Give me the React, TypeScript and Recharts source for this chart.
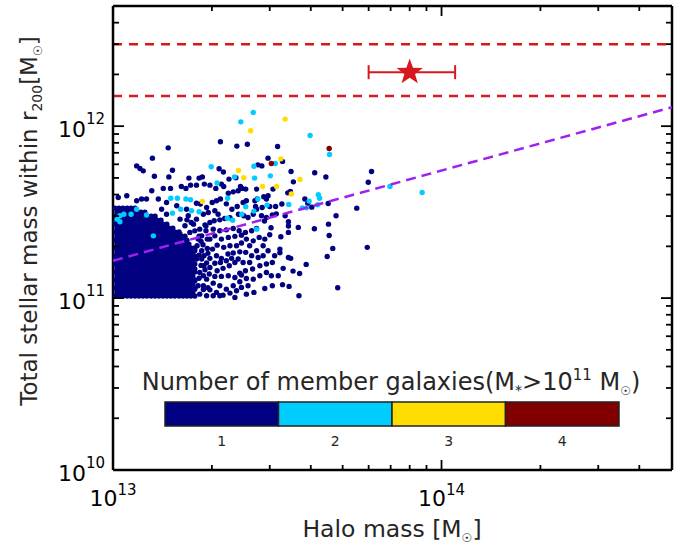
import { ErrorBar, ReferenceLine, Scatter, ScatterChart, XAxis, YAxis } from 'recharts'

// values are log10(M / Msun): [halo mass, stellar mass within r200]
// dense core of single-member groups, read row by row: [log stellar mass, log halo masses]
const CORE_ROWS: [number, number[]][] = [
  [11.012, [13.006, 13.018, 13.03, 13.043, 13.055, 13.067, 13.079, 13.091, 13.103, 13.116, 13.128, 13.14, 13.152, 13.164, 13.176, 13.188, 13.201, 13.213, 13.225, 13.237, 13.249]],
  [11.035, [13.012, 13.024, 13.037, 13.049, 13.061, 13.073, 13.085, 13.097, 13.109, 13.122, 13.134, 13.146, 13.158, 13.17, 13.182, 13.195, 13.207, 13.219, 13.231, 13.243]],
  [11.058, [13.006, 13.018, 13.03, 13.043, 13.055, 13.067, 13.079, 13.091, 13.103, 13.116, 13.128, 13.14, 13.152, 13.164, 13.176, 13.188, 13.201, 13.213, 13.225, 13.237, 13.249]],
  [11.081, [13.012, 13.024, 13.037, 13.049, 13.061, 13.073, 13.085, 13.097, 13.109, 13.122, 13.134, 13.146, 13.158, 13.17, 13.182, 13.195, 13.207, 13.219, 13.231, 13.243]],
  [11.105, [13.006, 13.018, 13.03, 13.043, 13.055, 13.067, 13.079, 13.091, 13.103, 13.116, 13.128, 13.14, 13.152, 13.164, 13.176, 13.188, 13.201, 13.213, 13.225, 13.237, 13.249]],
  [11.128, [13.012, 13.024, 13.037, 13.049, 13.061, 13.073, 13.085, 13.097, 13.109, 13.122, 13.134, 13.146, 13.158, 13.17, 13.182, 13.195, 13.207, 13.219, 13.231, 13.243]],
  [11.151, [13.006, 13.018, 13.03, 13.043, 13.055, 13.067, 13.079, 13.091, 13.103, 13.116, 13.128, 13.14, 13.152, 13.164, 13.176, 13.188, 13.201, 13.213, 13.225, 13.237, 13.249]],
  [11.174, [13.012, 13.024, 13.037, 13.049, 13.061, 13.073, 13.085, 13.097, 13.109, 13.122, 13.134, 13.146, 13.158, 13.17, 13.182, 13.195, 13.207, 13.219, 13.231, 13.243]],
  [11.198, [13.006, 13.018, 13.03, 13.043, 13.055, 13.067, 13.079, 13.091, 13.103, 13.116, 13.128, 13.14, 13.152, 13.164, 13.176, 13.188, 13.201, 13.213, 13.225, 13.237, 13.249]],
  [11.221, [13.012, 13.024, 13.037, 13.049, 13.061, 13.073, 13.085, 13.097, 13.109, 13.122, 13.134, 13.146, 13.158, 13.17, 13.182, 13.195, 13.207, 13.219, 13.231, 13.243]],
  [11.244, [13.006, 13.018, 13.03, 13.043, 13.055, 13.067, 13.079, 13.091, 13.103, 13.116, 13.128, 13.14, 13.152, 13.164, 13.176, 13.188, 13.201, 13.213, 13.225, 13.237, 13.249]],
  [11.267, [13.012, 13.024, 13.037, 13.049, 13.061, 13.073, 13.085, 13.097, 13.109, 13.122, 13.134, 13.146, 13.158, 13.17, 13.182, 13.195, 13.207, 13.219, 13.231, 13.243]],
  [11.291, [13.006, 13.018, 13.03, 13.043, 13.055, 13.067, 13.079, 13.091, 13.103, 13.116, 13.128, 13.14, 13.152, 13.164, 13.176, 13.188, 13.201, 13.213, 13.225, 13.237, 13.249]],
  [11.314, [13.012, 13.024, 13.037, 13.049, 13.061, 13.073, 13.085, 13.097, 13.109, 13.122, 13.134, 13.146, 13.158, 13.17, 13.182, 13.195, 13.207, 13.219, 13.231]],
  [11.337, [13.006, 13.018, 13.03, 13.043, 13.055, 13.067, 13.079, 13.091, 13.103, 13.116, 13.128, 13.14, 13.152, 13.164, 13.176, 13.188, 13.201, 13.213, 13.225]],
  [11.36, [13.012, 13.024, 13.037, 13.049, 13.061, 13.073, 13.085, 13.097, 13.109, 13.122, 13.134, 13.146, 13.158, 13.17, 13.182, 13.195, 13.207, 13.219]],
  [11.384, [13.006, 13.018, 13.03, 13.043, 13.055, 13.067, 13.079, 13.091, 13.103, 13.116, 13.128, 13.14, 13.152, 13.164, 13.176, 13.188, 13.201]],
  [11.407, [13.012, 13.024, 13.037, 13.049, 13.061, 13.073, 13.085, 13.097, 13.109, 13.122, 13.134, 13.146, 13.158, 13.17, 13.182]],
  [11.43, [13.006, 13.018, 13.03, 13.043, 13.055, 13.067, 13.079, 13.091, 13.103, 13.116, 13.128, 13.14, 13.152, 13.164]],
  [11.453, [13.012, 13.024, 13.037, 13.049, 13.061, 13.073, 13.085, 13.097, 13.109, 13.122, 13.134, 13.146]],
  [11.477, [13.006, 13.018, 13.03, 13.043, 13.055, 13.067, 13.079, 13.091, 13.103, 13.116, 13.128]],
  [11.5, [13.012, 13.024, 13.037, 13.049, 13.061, 13.073, 13.085, 13.097]],
  [11.523, [13.006, 13.018, 13.03, 13.043, 13.055, 13.067]],
]

// 1 member galaxy, scattered points
const N1_POINTS: [number, number][] = [
  [13.168, 11.874], [13.327, 11.909], [13.377, 11.884], [13.409, 11.895], [13.501, 11.882],
  [13.472, 11.814], [13.516, 11.795], [13.12, 11.814], [13.072, 11.769], [13.082, 11.754],
  [13.092, 11.74], [13.181, 11.744], [13.126, 11.709], [13.17, 11.705], [13.231, 11.698],
  [13.262, 11.698], [13.272, 11.705], [13.323, 11.752], [13.336, 11.733], [13.353, 11.692],
  [13.374, 11.7], [13.388, 11.649], [13.393, 11.638], [13.441, 11.775], [13.453, 11.769],
  [13.542, 11.736], [13.549, 11.676], [13.614, 11.729], [13.648, 11.704], [13.787, 11.736],
  [13.777, 11.674], [13.532, 11.612], [13.54, 11.62], [13.655, 11.55], [13.742, 11.523],
  [13.679, 11.479], [13.656, 11.43], [13.613, 11.403], [13.658, 11.364], [13.669, 11.289],
  [13.774, 11.295], [13.652, 11.242], [13.684, 11.06], [13.566, 11.014], [13.588, 11.196],
  [13.568, 11.143], [13.548, 11.157], [13.518, 11.173], [13.534, 11.236], [13.541, 11.231],
  [13.508, 11.264], [13.508, 11.285], [13.511, 11.357], [13.534, 11.419], [13.534, 11.382],
  [13.564, 11.411], [13.524, 11.479], [13.534, 11.444], [13.481, 11.409], [13.497, 11.49],
  [13.514, 11.547], [13.461, 11.448], [13.584, 11.576], [13.593, 11.552], [13.605, 11.529],
  [13.016, 11.585], [13.042, 11.595], [13.072, 11.566], [13.087, 11.576], [13.102, 11.576],
  [13.118, 11.624], [13.153, 11.638], [13.175, 11.638], [13.208, 11.649], [13.222, 11.638],
  [13.236, 11.657], [13.254, 11.657], [13.278, 11.663], [13.295, 11.657], [13.313, 11.638],
  [13.33, 11.663], [13.337, 11.649], [13.351, 11.61], [13.366, 11.618], [13.381, 11.624],
  [13.404, 11.634], [13.437, 11.634], [13.472, 11.595], [13.487, 11.634], [13.459, 11.589],
  [13.467, 11.576], [13.439, 11.576], [13.432, 11.566], [13.406, 11.566], [13.396, 11.556],
  [13.378, 11.533], [13.362, 11.517], [13.345, 11.548], [13.327, 11.576], [13.315, 11.566],
  [13.302, 11.556], [13.285, 11.527], [13.266, 11.547], [13.254, 11.552], [13.434, 11.533],
  [13.437, 11.517], [13.454, 11.527], [13.477, 11.533], [13.495, 11.533], [13.485, 11.483],
  [13.467, 11.469], [13.452, 11.479], [13.427, 11.488], [13.411, 11.469], [13.398, 11.479],
  [13.382, 11.488], [13.356, 11.467], [13.34, 11.463], [13.325, 11.455], [13.308, 11.45],
  [13.295, 11.44], [13.28, 11.426], [13.264, 11.401], [13.283, 11.392], [13.305, 11.401],
  [13.325, 11.392], [13.345, 11.397], [13.366, 11.405], [13.384, 11.392], [13.403, 11.382],
  [13.422, 11.392], [13.437, 11.405], [13.477, 11.368], [13.462, 11.343], [13.445, 11.353],
  [13.427, 11.333], [13.406, 11.343], [13.391, 11.32], [13.376, 11.304], [13.356, 11.304],
  [13.337, 11.295], [13.317, 11.308], [13.303, 11.285], [13.287, 11.289], [13.27, 11.275],
  [13.315, 11.246], [13.33, 11.231], [13.35, 11.256], [13.366, 11.262], [13.386, 11.269],
  [13.404, 11.266], [13.422, 11.246], [13.442, 11.236], [13.457, 11.246], [13.485, 11.207],
  [13.467, 11.198], [13.447, 11.188], [13.425, 11.169], [13.403, 11.159], [13.386, 11.145],
  [13.371, 11.207], [13.354, 11.188], [13.335, 11.173], [13.317, 11.159], [13.295, 11.178],
  [13.277, 11.188], [13.264, 11.149], [13.285, 11.11], [13.305, 11.087], [13.325, 11.072],
  [13.345, 11.052], [13.366, 11.072], [13.386, 11.095], [13.406, 11.114], [13.427, 11.11],
  [13.447, 11.13], [13.462, 11.056], [13.485, 11.072], [13.516, 11.078], [13.536, 11.068],
  [13.429, 11.033], [13.406, 11.023], [13.325, 11.014], [13.264, 11.023], [13.239, 11.029],
  [13.254, 11.459], [13.259, 11.343], [13.254, 11.227], [13.259, 11.072], [13.249, 11.169],
  [13.256, 11.304], [13.295, 11.343], [13.138, 11.576], [13.163, 11.556], [13.194, 11.537],
  [13.224, 11.517], [13.148, 11.517], [13.204, 11.459], [13.229, 11.479], [13.163, 11.488],
  [13.275, 11.488], [13.29, 11.498], [13.31, 11.508], [13.32, 11.488], [13.27, 11.362],
  [13.287, 11.343], [13.31, 11.362], [13.33, 11.343], [13.351, 11.353], [13.371, 11.359],
  [13.391, 11.366], [13.277, 11.246], [13.295, 11.231], [13.31, 11.203], [13.327, 11.207],
  [13.345, 11.217], [13.361, 11.231], [13.381, 11.227], [13.396, 11.207], [13.416, 11.207],
  [13.275, 11.13], [13.293, 11.14], [13.31, 11.126], [13.33, 11.126], [13.351, 11.13],
  [13.371, 11.12], [13.391, 11.134], [13.275, 11.072], [13.295, 11.048], [13.315, 11.033],
  [13.335, 11.017], [13.356, 11.029], [13.376, 11.043], [13.391, 11.062], [13.411, 11.072],
  [13.285, 11.014], [13.305, 11.014], [13.371, 11.004], [13.249, 11.101], [13.249, 11.052],
  [13.249, 11.275], [13.249, 11.391], [13.27, 11.227], [13.416, 11.304], [13.457, 11.304],
  [13.437, 11.275], [13.472, 11.275], [13.467, 11.149], [13.482, 11.13], [13.503, 11.13],
  [13.492, 11.246], [13.234, 11.382], [13.219, 11.421], [13.204, 11.372],
  [13.262, 11.115], [13.268, 11.19], [13.262, 11.25], [13.268, 11.33], [13.262, 11.36],
  [13.275, 11.05], [13.28, 11.165], [13.289, 11.26], [13.274, 11.31], [13.285, 11.205],
  [13.289, 11.06], [13.283, 11.42], [13.245, 11.43], [13.238, 11.44], [13.225, 11.455],
]

// 2 member galaxies
const N2_POINTS: [number, number][] = [
  [13.021, 11.479], [13.033, 11.488], [13.013, 11.459], [13.055, 11.488], [13.021, 11.444],
  [13.123, 11.362], [13.176, 11.581], [13.196, 11.581], [13.222, 11.576], [13.236, 11.572],
  [13.262, 11.502], [13.239, 11.508], [13.181, 11.494], [13.206, 11.517], [13.317, 11.669],
  [13.349, 11.581], [13.37, 11.705], [13.348, 11.465], [13.364, 11.453], [13.431, 11.698],
  [13.441, 11.576], [13.469, 11.541], [13.404, 11.531], [13.429, 11.506], [13.437, 11.401],
  [13.392, 11.488], [13.535, 11.545], [13.576, 11.525], [13.589, 11.525], [13.597, 11.564],
  [13.623, 11.543], [13.629, 11.581], [13.625, 11.601], [13.479, 11.711], [13.494, 11.783],
  [13.429, 11.767], [13.299, 11.764], [13.389, 12.025], [13.427, 12.08], [13.6, 11.946],
  [13.659, 11.835], [13.843, 11.649], [13.941, 11.614], [13.072, 11.517], [13.102, 11.483],
]

// 3 member galaxies
const N3_POINTS: [number, number][] = [
  [13.419, 11.973], [13.524, 12.041], [13.382, 11.742], [13.398, 11.7], [13.455, 11.649],
  [13.498, 11.649], [13.511, 11.81], [13.569, 11.69], [13.543, 11.605], [13.272, 11.562],
]

// 4 member galaxies
const N4_POINTS: [number, number][] = [
  [13.482, 11.783], [13.658, 11.87],
]

// observed system with halo-mass range
const STAR = [{ x: 8e13, y: 2.06e12, err: [2e13, 3e13] }]
const STAR_LIMITS = [3e12, 1.5e12]

// best-fit relation, log10 values at both ends of the x range
const FIT_LINE: [number, number][] = [[13.0, 11.217], [14.7016, 12.11]]

const X_DOMAIN: [number, number] = [1e13, 5.03e14]
const Y_DOMAIN: [number, number] = [1e10, 5e12]
const X_MAJOR = [1e13, 1e14]
const X_TICKS = [1e13, 2e13, 3e13, 4e13, 5e13, 6e13, 7e13, 8e13, 9e13, 1e14, 2e14, 3e14, 4e14]
const Y_MAJOR = [1e10, 1e11, 1e12]
const Y_TICKS = [
  1e10, 2e10, 3e10, 4e10, 5e10, 6e10, 7e10, 8e10, 9e10,
  1e11, 2e11, 3e11, 4e11, 5e11, 6e11, 7e11, 8e11, 9e11,
  1e12, 2e12, 3e12, 4e12,
]

const COLORS = ['#000080', '#00ccff', '#ffdd00', '#800000']
const CBAR_LABELS = ['1', '2', '3', '4']
const RED = '#d8181f'
const PURPLE = '#a020f0'
const FONT = 'DejaVu Sans'
const TITLE = '#262626'

const toPoints = (arr: [number, number][]) => arr.map(([lx, ly]) => ({ x: 10 ** lx, y: 10 ** ly }))

const n1Data = [
  ...CORE_ROWS.flatMap(([ly, xs]) => xs.map((lx) => ({ x: 10 ** lx, y: 10 ** ly }))),
  ...toPoints(N1_POINTS),
]
const groups = [n1Data, toPoints(N2_POINTS), toPoints(N3_POINTS), toPoints(N4_POINTS)]
const fitData = toPoints(FIT_LINE)

const dot = (fill: string) => (p: any) => <circle cx={p.cx} cy={p.cy} r={2.7} fill={fill} />
const noDot = () => <g />

function StarShape(p: any) {
  const pts: string[] = []
  for (let i = 0; i < 10; i++) {
    const r = i % 2 === 0 ? 13.8 : 5.6
    const a = -Math.PI / 2 + (i * Math.PI) / 5
    pts.push(`${p.cx + r * Math.cos(a)},${p.cy + r * Math.sin(a)}`)
  }
  return <polygon points={pts.join(' ')} fill={RED} />
}

function Pow({ v, x, y, anchor, dy }: { v: number; x: number; y: number; anchor: 'middle' | 'end'; dy: number }) {
  return (
    <text x={x} y={y} textAnchor={anchor} fontSize={22} fontFamily={FONT} fill="#000">
      10
      <tspan dy={dy} fontSize={15}>
        {Math.round(Math.log10(v))}
      </tspan>
    </text>
  )
}

function BottomTick({ x, y, payload }: any) {
  const major = X_MAJOR.includes(payload.value)
  return (
    <g>
      <line x1={x} x2={x} y1={y} y2={y - (major ? 10 : 5)} stroke="#000" strokeWidth={1.8} />
      {major && <Pow v={payload.value} x={x} y={y + 36} anchor="middle" dy={-11} />}
    </g>
  )
}

function TopTick({ x, y, payload }: any) {
  const major = X_MAJOR.includes(payload.value)
  return <line x1={x} x2={x} y1={y} y2={y + (major ? 10 : 5)} stroke="#000" strokeWidth={1.8} />
}

function LeftTick({ x, y, payload }: any) {
  const major = Y_MAJOR.includes(payload.value)
  return (
    <g>
      <line x1={x} x2={x + (major ? 11 : 6)} y1={y} y2={y} stroke="#000" strokeWidth={1.8} />
      {major && <Pow v={payload.value} x={x - 8} y={y + 11} anchor="end" dy={-13} />}
    </g>
  )
}

function RightTick({ x, y, payload }: any) {
  const major = Y_MAJOR.includes(payload.value)
  return <line x1={x} x2={x - (major ? 11 : 6)} y1={y} y2={y} stroke="#000" strokeWidth={1.8} />
}

const AXIS_LINE = { stroke: '#000', strokeWidth: 2.5 }

function Overlay() {
  const left = 165
  const segW = (619 - 165) / COLORS.length
  return (
    <svg width={688} height={545} style={{ position: 'absolute', left: 0, top: 0, pointerEvents: 'none' }}>
      <text x={391} y={390} textAnchor="middle" fontSize={24} fontFamily={FONT} fill={TITLE}>
        Number of member galaxies(M
        <tspan dy={5} fontSize={14}>*</tspan>
        <tspan dy={-5}>&gt;10</tspan>
        <tspan dy={-10} fontSize={15}>11</tspan>
        <tspan dy={10}> M</tspan>
        <tspan dy={5} fontSize={12}>☉</tspan>
        <tspan dy={-5}>)</tspan>
      </text>
      {COLORS.map((c, i) => (
        <g key={c}>
          <rect x={left + i * segW} y={402} width={segW} height={24} fill={c} stroke="#222" strokeWidth={1.5} />
          <text x={left + (i + 0.5) * segW} y={446} textAnchor="middle" fontSize={14} fontFamily={FONT} fill={TITLE}>
            {CBAR_LABELS[i]}
          </text>
        </g>
      ))}
      <text x={392} y={537} textAnchor="middle" fontSize={23.5} fontFamily={FONT} fill={TITLE}>
        Halo mass [M<tspan dy={5} fontSize={12}>☉</tspan>
        <tspan dy={-5}>]</tspan>
      </text>
      <text transform="translate(37,221) rotate(-90)" textAnchor="middle" fontSize={23} fontFamily={FONT} fill={TITLE}>
        Total stellar mass within r<tspan dy={5} fontSize={14}>200</tspan>
        <tspan dy={-5}>[M</tspan>
        <tspan dy={5} fontSize={12}>☉</tspan>
        <tspan dy={-5}>]</tspan>
      </text>
    </svg>
  )
}

export default function App() {
  return (
    <div style={{ position: 'absolute', left: 0, top: 0, width: 688, height: 545, background: '#fff' }}>
      <ScatterChart width={688} height={545} margin={{ top: 0, right: 0, bottom: 0, left: 0 }}>
        <XAxis
          xAxisId="b"
          dataKey="x"
          type="number"
          scale="log"
          domain={X_DOMAIN}
          allowDataOverflow
          ticks={X_TICKS}
          interval={0}
          height={75}
          tickSize={0}
          tickMargin={0}
          tickLine={false}
          axisLine={AXIS_LINE}
          tick={BottomTick}
        />
        <XAxis
          xAxisId="t"
          orientation="top"
          dataKey="x"
          type="number"
          scale="log"
          domain={X_DOMAIN}
          allowDataOverflow
          ticks={X_TICKS}
          interval={0}
          height={6}
          tickSize={0}
          tickMargin={0}
          tickLine={false}
          axisLine={AXIS_LINE}
          tick={TopTick}
        />
        <YAxis
          yAxisId="l"
          dataKey="y"
          type="number"
          scale="log"
          domain={Y_DOMAIN}
          allowDataOverflow
          ticks={Y_TICKS}
          interval={0}
          width={113}
          tickSize={0}
          tickMargin={0}
          tickLine={false}
          axisLine={AXIS_LINE}
          tick={LeftTick}
        />
        <YAxis
          yAxisId="r"
          orientation="right"
          dataKey="y"
          type="number"
          scale="log"
          domain={Y_DOMAIN}
          allowDataOverflow
          ticks={Y_TICKS}
          interval={0}
          width={16}
          tickSize={0}
          tickMargin={0}
          tickLine={false}
          axisLine={AXIS_LINE}
          tick={RightTick}
        />
        {STAR_LIMITS.map((v) => (
          <ReferenceLine
            key={v}
            xAxisId="b"
            yAxisId="l"
            y={v}
            stroke={RED}
            strokeWidth={2.5}
            strokeDasharray="9 7"
          />
        ))}
        {groups.map((data, i) => (
          <Scatter
            key={i}
            data={data}
            xAxisId="b"
            yAxisId="l"
            isAnimationActive={false}
            shape={dot(COLORS[i])}
          />
        ))}
        <Scatter
          data={fitData}
          xAxisId="b"
          yAxisId="l"
          isAnimationActive={false}
          shape={noDot}
          line={{ stroke: PURPLE, strokeWidth: 2.5, strokeDasharray: '10 6' }}
        />
        <Scatter data={STAR} xAxisId="b" yAxisId="l" isAnimationActive={false} shape={StarShape}>
          <ErrorBar dataKey="err" direction="x" width={7} stroke={RED} strokeWidth={2} isAnimationActive={false} />
        </Scatter>
      </ScatterChart>
      <Overlay />
    </div>
  )
}
